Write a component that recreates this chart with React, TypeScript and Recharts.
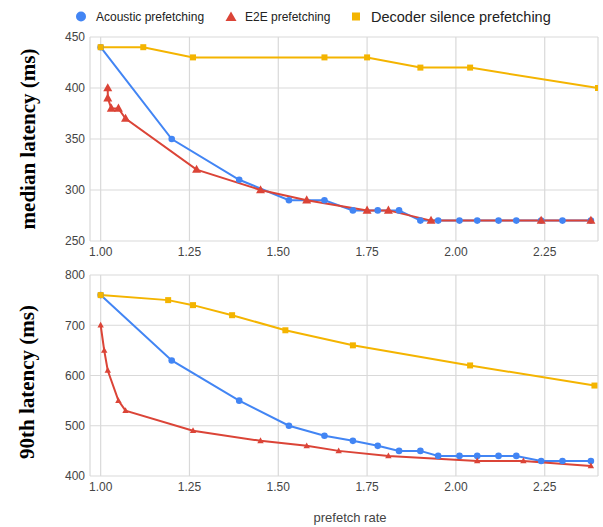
import React from 'react';
import { LineChart, Line, XAxis, YAxis, CartesianGrid } from 'recharts';

// prefetch rate ticks, shared by both panels
const xTicks = [1.0, 1.25, 1.5, 1.75, 2.0, 2.25];
const medianTicks = [250, 300, 350, 400, 450];
const p90Ticks = [400, 500, 600, 700, 800];

// median latency (ms)
const acousticMedianX = [1.0, 1.2, 1.39, 1.53, 1.63, 1.71, 1.78, 1.84, 1.9, 1.95, 2.01, 2.06, 2.12, 2.17, 2.24, 2.3, 2.38];
const acousticMedianY = [440, 350, 310, 290, 290, 280, 280, 280, 270, 270, 270, 270, 270, 270, 270, 270, 270];
const e2eMedianX = [1.02, 1.02, 1.03, 1.05, 1.07, 1.27, 1.45, 1.58, 1.75, 1.81, 1.93, 2.24, 2.38];
const e2eMedianY = [400, 390, 380, 380, 370, 320, 300, 290, 280, 280, 270, 270, 270];
const decoderMedianX = [1.0, 1.12, 1.26, 1.63, 1.75, 1.9, 2.04, 2.4];
const decoderMedianY = [440, 440, 430, 430, 430, 420, 420, 400];

// 90th percentile latency (ms)
const acousticP90X = [1.0, 1.2, 1.39, 1.53, 1.63, 1.71, 1.78, 1.84, 1.9, 1.95, 2.01, 2.06, 2.12, 2.17, 2.24, 2.3, 2.38];
const acousticP90Y = [760, 630, 550, 500, 480, 470, 460, 450, 450, 440, 440, 440, 440, 440, 430, 430, 430];
const e2eP90X = [1.0, 1.01, 1.02, 1.05, 1.07, 1.26, 1.45, 1.58, 1.67, 1.81, 2.06, 2.19, 2.38];
const e2eP90Y = [700, 650, 610, 550, 530, 490, 470, 460, 450, 440, 430, 430, 420];
const decoderP90X = [1.0, 1.19, 1.26, 1.37, 1.52, 1.71, 2.04, 2.39];
const decoderP90Y = [760, 750, 740, 720, 690, 660, 620, 580];

const BLUE = '#4285f4';
const RED = '#db4437';
const YELLOW = '#f4b400';
const SANS = "Arial, 'Liberation Sans', sans-serif";
const SERIF = "'Times New Roman', 'Liberation Serif', serif";

const zip = (xs: number[], ys: number[]) => xs.map((x, i) => ({ x, y: ys[i] }));

const makeDot = (shape: 'circle' | 'triangle' | 'square', size: number, color: string) => (props: any) => {
  const { cx, cy, index } = props;
  if (cx == null || cy == null) return <g key={index} />;
  if (shape === 'circle') return <circle key={index} cx={cx} cy={cy} r={size} fill={color} />;
  if (shape === 'square')
    return <rect key={index} x={cx - size} y={cy - size} width={size * 2} height={size * 2} fill={color} />;
  const h = size * 1.8;
  return (
    <polygon
      key={index}
      points={`${cx},${cy - h * 0.6} ${cx - size},${cy + h * 0.4} ${cx + size},${cy + h * 0.4}`}
      fill={color}
    />
  );
};

interface PanelProps {
  top: number;
  height: number;
  marginTop: number;
  domain: [number, number];
  yTicks: number[];
  acoustic: { x: number; y: number }[];
  e2e: { x: number; y: number }[];
  decoder: { x: number; y: number }[];
  tri: number;
  sq: number;
}

function Panel({ top, height, marginTop, domain, yTicks, acoustic, e2e, decoder, tri, sq }: PanelProps) {
  const tick = { fill: '#444', fontSize: 12, fontFamily: SANS };
  return (
    <div style={{ position: 'absolute', left: 0, top }}>
      <LineChart width={603} height={height} margin={{ top: marginTop, right: 5, left: 0, bottom: 0 }}>
        <CartesianGrid stroke="#d9d9d9" strokeWidth={1.2} />
        <XAxis
          type="number"
          dataKey="x"
          domain={[0.97, 2.4]}
          ticks={xTicks}
          tickFormatter={(v) => v.toFixed(2)}
          axisLine={false}
          tickLine={false}
          tickSize={0}
          tickMargin={6}
          height={24}
          tick={tick}
          allowDataOverflow
        />
        <YAxis
          type="number"
          domain={domain}
          ticks={yTicks}
          axisLine={false}
          tickLine={false}
          tickSize={3}
          tickMargin={2}
          width={90}
          tick={tick}
        />
        <Line data={acoustic} dataKey="y" stroke={BLUE} strokeWidth={2} dot={makeDot('circle', 3.3, BLUE)} isAnimationActive={false} />
        <Line data={e2e} dataKey="y" stroke={RED} strokeWidth={2} dot={makeDot('triangle', tri, RED)} isAnimationActive={false} />
        <Line data={decoder} dataKey="y" stroke={YELLOW} strokeWidth={2} dot={makeDot('square', sq, YELLOW)} isAnimationActive={false} />
      </LineChart>
    </div>
  );
}

export default function App() {
  return (
    <div style={{ position: 'absolute', left: 0, top: 0, width: 603, height: 527, background: '#fff' }}>
      <svg width={603} height={30} style={{ position: 'absolute', left: 0, top: 0 }}>
        <circle cx={81} cy={16.5} r={5} fill={BLUE} />
        <text x={96} y={21} fontSize={12} fontFamily={SANS} fill="#222">Acoustic prefetching</text>
        <polygon points="231,11.5 225.5,21 236.5,21" fill={RED} />
        <text x={245} y={21} fontSize={12} fontFamily={SANS} fill="#222">E2E prefetching</text>
        <rect x={352} y={12.5} width={8} height={8} fill={YELLOW} />
        <text x={371} y={21.5} fontSize={14.5} fontFamily={SANS} fill="#222">Decoder silence prefetching</text>
      </svg>
      <Panel
        top={0}
        height={265}
        marginTop={37}
        domain={[250, 450]}
        yTicks={medianTicks}
        acoustic={zip(acousticMedianX, acousticMedianY)}
        e2e={zip(e2eMedianX, e2eMedianY)}
        decoder={zip(decoderMedianX, decoderMedianY)}
        tri={4.5}
        sq={3}
      />
      <Panel
        top={250}
        height={250}
        marginTop={25}
        domain={[400, 800]}
        yTicks={p90Ticks}
        acoustic={zip(acousticP90X, acousticP90Y)}
        e2e={zip(e2eP90X, e2eP90Y)}
        decoder={zip(decoderP90X, decoderP90Y)}
        tri={3.2}
        sq={3}
      />
      <div
        style={{
          position: 'absolute', left: 28, top: 139, transform: 'translate(-50%, -50%) rotate(-90deg)',
          fontFamily: SERIF, fontWeight: 'bold', fontSize: 21, whiteSpace: 'nowrap', color: '#000',
        }}
      >
        median latency (ms)
      </div>
      <div
        style={{
          position: 'absolute', left: 27, top: 382, transform: 'translate(-50%, -50%) rotate(-90deg)',
          fontFamily: SERIF, fontWeight: 'bold', fontSize: 21, whiteSpace: 'nowrap', color: '#000',
        }}
      >
        90th latency (ms)
      </div>
      <div
        style={{
          position: 'absolute', left: 350, top: 517, transform: 'translate(-50%, -50%)',
          fontFamily: SANS, fontSize: 13, whiteSpace: 'nowrap', color: '#444',
        }}
      >
        prefetch rate
      </div>
    </div>
  );
}
